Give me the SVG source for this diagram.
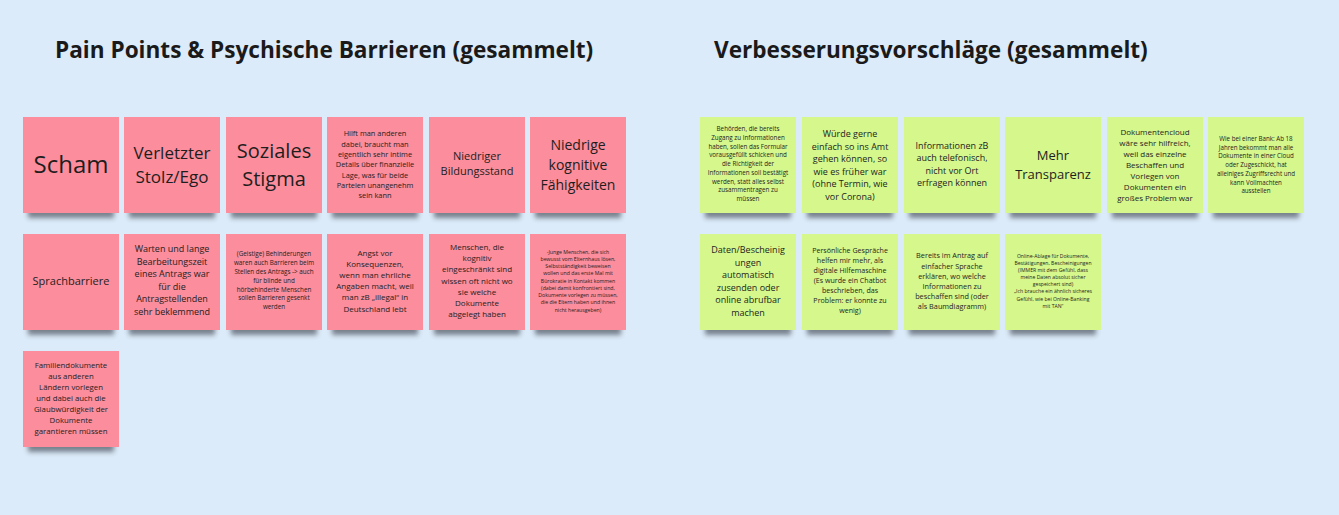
<svg xmlns="http://www.w3.org/2000/svg" width="1339" height="515" viewBox="0 0 1339 515">
<defs>
<filter id="sh" x="-20%" y="-100%" width="140%" height="300%"><feGaussianBlur stdDeviation="2.8"/></filter>
<style>
.t{font-family:"Open Sans","Noto Sans","Liberation Sans",sans-serif;fill:#1e1e1e;text-anchor:middle}
.h{font-family:"Open Sans","Noto Sans","Liberation Sans",sans-serif;font-weight:bold;font-size:22.6px;fill:#1a1a1a}
.p{fill:#fb8d9c}
.g{fill:#d5f78c}
.s{fill:#363b46;opacity:.6;filter:url(#sh)}
</style>
</defs>
<rect width="1339" height="515" fill="#dcebf9"/>
<text class="h" x="55" y="58">Pain Points &amp; Psychische Barrieren (gesammelt)</text>
<text class="h" x="714" y="58">Verbesserungsvorschläge (gesammelt)</text>
<g id="connectors"/>

<g id="p1"><rect class="s" x="28" y="205" width="86" height="13"/><rect class="p" x="23" y="117" width="96" height="96"/>
<text class="t" font-size="24" x="71" y="173">Scham</text></g>
<g id="p2"><rect class="s" x="129" y="205" width="86" height="13"/><rect class="p" x="124" y="117" width="96" height="96"/>
<text class="t" font-size="17"><tspan x="172" y="158.6">Verletzter</tspan><tspan x="172" y="182.6">Stolz/Ego</tspan></text></g>
<g id="p3"><rect class="s" x="231" y="205" width="86" height="13"/><rect class="p" x="226" y="117" width="96" height="96"/>
<text class="t" font-size="20"><tspan x="274" y="157.6">Soziales</tspan><tspan x="274" y="185.6">Stigma</tspan></text></g>
<g id="p4"><rect class="s" x="332" y="205" width="86" height="13"/><rect class="p" x="327" y="117" width="96" height="96"/>
<text class="t" font-size="7.4"><tspan x="375" y="136.4">Hilft man anderen</tspan><tspan x="375" dy="10.3">dabei, braucht man</tspan><tspan x="375" dy="10.3">eigentlich sehr intime</tspan><tspan x="375" dy="10.3">Details über finanzielle</tspan><tspan x="375" dy="10.3">Lage, was für beide</tspan><tspan x="375" dy="10.3">Parteien unangenehm</tspan><tspan x="375" dy="10.3">sein kann</tspan></text></g>
<g id="p5"><rect class="s" x="434" y="205" width="86" height="13"/><rect class="p" x="429" y="117" width="96" height="96"/>
<text class="t" font-size="11"><tspan x="477" y="160.3">Niedriger</tspan><tspan x="477" y="175.3">Bildungsstand</tspan></text></g>
<g id="p6"><rect class="s" x="535" y="205" width="86" height="13"/><rect class="p" x="530" y="117" width="96" height="96"/>
<text class="t" font-size="14"><tspan x="578" y="149.6">Niedrige</tspan><tspan x="578" y="169.6">kognitive</tspan><tspan x="578" y="189.6">Fähigkeiten</tspan></text></g>

<g id="p7"><rect class="s" x="28" y="322" width="86" height="13"/><rect class="p" x="23" y="234" width="96" height="96"/>
<text class="t" font-size="11" x="71" y="284.6">Sprachbarriere</text></g>
<g id="p8"><rect class="s" x="129" y="322" width="86" height="13"/><rect class="p" x="124" y="234" width="96" height="96"/>
<text class="t" font-size="9"><tspan x="172" y="252">Warten und lange</tspan><tspan x="172" dy="12.6">Bearbeitungszeit</tspan><tspan x="172" dy="12.6">eines Antrags war</tspan><tspan x="172" dy="12.6">für die</tspan><tspan x="172" dy="12.6">Antragstellenden</tspan><tspan x="172" dy="12.6">sehr beklemmend</tspan></text></g>
<g id="p9"><rect class="s" x="231" y="322" width="86" height="13"/><rect class="p" x="226" y="234" width="96" height="96"/>
<text class="t" font-size="6.3"><tspan x="274" y="256.1">(Geistige) Behinderungen</tspan><tspan x="274" dy="8.85">waren auch Barrieren beim</tspan><tspan x="274" dy="8.85">Stellen des Antrags -&gt; auch</tspan><tspan x="274" dy="8.85">für blinde und</tspan><tspan x="274" dy="8.85">hörbehinderte Menschen</tspan><tspan x="274" dy="8.85">sollen Barrieren gesenkt</tspan><tspan x="274" dy="8.85">werden</tspan></text></g>
<g id="p10"><rect class="s" x="332" y="322" width="86" height="13"/><rect class="p" x="327" y="234" width="96" height="96"/>
<text class="t" font-size="8"><tspan x="375" y="255.6">Angst vor</tspan><tspan x="375" dy="11.2">Konsequenzen,</tspan><tspan x="375" dy="11.2">wenn man ehrliche</tspan><tspan x="375" dy="11.2">Angaben macht, weil</tspan><tspan x="375" dy="11.2">man zB „illegal“ in</tspan><tspan x="375" dy="11.2">Deutschland lebt</tspan></text></g>
<g id="p11"><rect class="s" x="434" y="322" width="86" height="13"/><rect class="p" x="429" y="234" width="96" height="96"/>
<text class="t" font-size="8"><tspan x="477" y="249.6">Menschen, die</tspan><tspan x="477" dy="11.3">kognitiv</tspan><tspan x="477" dy="11.3">eingeschränkt sind</tspan><tspan x="477" dy="11.3">wissen oft nicht wo</tspan><tspan x="477" dy="11.3">sie welche</tspan><tspan x="477" dy="11.3">Dokumente</tspan><tspan x="477" dy="11.3">abgelegt haben</tspan></text></g>
<g id="p12"><rect class="s" x="535" y="322" width="86" height="13"/><rect class="p" x="530" y="234" width="96" height="96"/>
<text class="t" font-size="5.2"><tspan x="578" y="253.7">-Junge Menschen, die sich</tspan><tspan x="578" dy="7.25">bewusst vom Elternhaus lösen,</tspan><tspan x="578" dy="7.25">Selbstständigkeit beweisen</tspan><tspan x="578" dy="7.25">wollen und das erste Mal mit</tspan><tspan x="578" dy="7.25">Bürokratie in Kontakt kommen</tspan><tspan x="578" dy="7.25">(dabei damit konfrontiert sind,</tspan><tspan x="578" dy="7.25">Dokumente vorlegen zu müssen,</tspan><tspan x="578" dy="7.25">die die Eltern haben und ihnen</tspan><tspan x="578" dy="7.25">nicht herausgeben)</tspan></text></g>

<g id="p13"><rect class="s" x="28" y="439" width="86" height="13"/><rect class="p" x="23" y="351" width="96" height="96"/>
<text class="t" font-size="7.8"><tspan x="71" y="367.6">Familiendokumente</tspan><tspan x="71" dy="11">aus anderen</tspan><tspan x="71" dy="11">Ländern vorlegen</tspan><tspan x="71" dy="11">und dabei auch die</tspan><tspan x="71" dy="11">Glaubwürdigkeit der</tspan><tspan x="71" dy="11">Dokumente</tspan><tspan x="71" dy="11">garantieren müssen</tspan></text></g>

<g id="g1"><rect class="s" x="705" y="205" width="86" height="13"/><rect class="g" x="700" y="117" width="96" height="96"/>
<text class="t" font-size="6.25"><tspan x="748" y="131">Behörden, die bereits</tspan><tspan x="748" dy="8.75">Zugang zu Informationen</tspan><tspan x="748" dy="8.75">haben, sollen das Formular</tspan><tspan x="748" dy="8.75">vorausgefüllt schicken und</tspan><tspan x="748" dy="8.75">die Richtigkeit der</tspan><tspan x="748" dy="8.75">Informationen soll bestätigt</tspan><tspan x="748" dy="8.75">werden, statt alles selbst</tspan><tspan x="748" dy="8.75">zusammentragen zu</tspan><tspan x="748" dy="8.75">müssen</tspan></text></g>
<g id="g2"><rect class="s" x="807" y="205" width="86" height="13"/><rect class="g" x="802" y="117" width="96" height="96"/>
<text class="t" font-size="9"><tspan x="850" y="137">Würde gerne</tspan><tspan x="850" dy="12.6">einfach so ins Amt</tspan><tspan x="850" dy="12.6">gehen können, so</tspan><tspan x="850" dy="12.6">wie es früher war</tspan><tspan x="850" dy="12.6">(ohne Termin, wie</tspan><tspan x="850" dy="12.6">vor Corona)</tspan></text></g>
<g id="g3"><rect class="s" x="909" y="205" width="86" height="13"/><rect class="g" x="904" y="117" width="96" height="96"/>
<text class="t" font-size="9"><tspan x="952" y="149">Informationen zB</tspan><tspan x="952" dy="12.4">auch telefonisch,</tspan><tspan x="952" dy="12.4">nicht vor Ort</tspan><tspan x="952" dy="12.4">erfragen können</tspan></text></g>
<g id="g4"><rect class="s" x="1010" y="205" width="86" height="13"/><rect class="g" x="1005" y="117" width="96" height="96"/>
<text class="t" font-size="13"><tspan x="1053" y="160.3">Mehr</tspan><tspan x="1053" y="179.3">Transparenz</tspan></text></g>
<g id="g5"><rect class="s" x="1112" y="205" width="86" height="13"/><rect class="g" x="1107" y="117" width="96" height="96"/>
<text class="t" font-size="8"><tspan x="1155" y="134.6">Dokumentencloud</tspan><tspan x="1155" dy="11">wäre sehr hilfreich,</tspan><tspan x="1155" dy="11">weil das einzelne</tspan><tspan x="1155" dy="11">Beschaffen und</tspan><tspan x="1155" dy="11">Vorlegen von</tspan><tspan x="1155" dy="11">Dokumenten ein</tspan><tspan x="1155" dy="11">großes Problem war</tspan></text></g>
<g id="g6"><rect class="s" x="1213" y="205" width="86" height="13"/><rect class="g" x="1208" y="117" width="96" height="96"/>
<text class="t" font-size="6.2"><tspan x="1256" y="141">Wie bei einer Bank: Ab 18</tspan><tspan x="1256" dy="8.7">Jahren bekommt man alle</tspan><tspan x="1256" dy="8.7">Dokumente in einer Cloud</tspan><tspan x="1256" dy="8.7">oder Zugeschickt, hat</tspan><tspan x="1256" dy="8.7">alleiniges Zugriffsrecht und</tspan><tspan x="1256" dy="8.7">kann Vollmachten</tspan><tspan x="1256" dy="8.7">ausstellen</tspan></text></g>

<g id="g7"><rect class="s" x="705" y="322" width="86" height="13"/><rect class="g" x="700" y="234" width="96" height="96"/>
<text class="t" font-size="9"><tspan x="748" y="253">Daten/Bescheinig</tspan><tspan x="748" dy="12.6">ungen</tspan><tspan x="748" dy="12.6">automatisch</tspan><tspan x="748" dy="12.6">zusenden oder</tspan><tspan x="748" dy="12.6">online abrufbar</tspan><tspan x="748" dy="12.6">machen</tspan></text></g>
<g id="g8"><rect class="s" x="807" y="322" width="86" height="13"/><rect class="g" x="802" y="234" width="96" height="96"/>
<text class="t" font-size="7.1"><tspan x="850" y="253.3">Persönliche Gespräche</tspan><tspan x="850" dy="10">helfen mir mehr, als</tspan><tspan x="850" dy="10">digitale Hilfemaschine</tspan><tspan x="850" dy="10">(Es wurde ein Chatbot</tspan><tspan x="850" dy="10">beschrieben, das</tspan><tspan x="850" dy="10">Problem: er konnte zu</tspan><tspan x="850" dy="10">wenig)</tspan></text></g>
<g id="g9"><rect class="s" x="909" y="322" width="86" height="13"/><rect class="g" x="904" y="234" width="96" height="96"/>
<text class="t" font-size="7.3"><tspan x="952" y="258.4">Bereits im Antrag auf</tspan><tspan x="952" dy="10.2">einfacher Sprache</tspan><tspan x="952" dy="10.2">erklären, wo welche</tspan><tspan x="952" dy="10.2">Informationen zu</tspan><tspan x="952" dy="10.2">beschaffen sind (oder</tspan><tspan x="952" dy="10.2">als Baumdiagramm)</tspan></text></g>
<g id="g10"><rect class="s" x="1010" y="322" width="86" height="13"/><rect class="g" x="1005" y="234" width="96" height="96"/>
<text class="t" font-size="5.1"><tspan x="1053" y="257.7">Online-Ablage für Dokumente,</tspan><tspan x="1053" dy="7.15">Bestätigungen, Bescheinigungen</tspan><tspan x="1053" dy="7.15">(IMMER mit dem Gefühl, dass</tspan><tspan x="1053" dy="7.15">meine Daten absolut sicher</tspan><tspan x="1053" dy="7.15">gespeichert sind)</tspan><tspan x="1053" dy="7.15">„Ich brauche ein ähnlich sicheres</tspan><tspan x="1053" dy="7.15">Gefühl, wie bei Online-Banking</tspan><tspan x="1053" dy="7.15">mit TAN“</tspan></text></g>
</svg>
